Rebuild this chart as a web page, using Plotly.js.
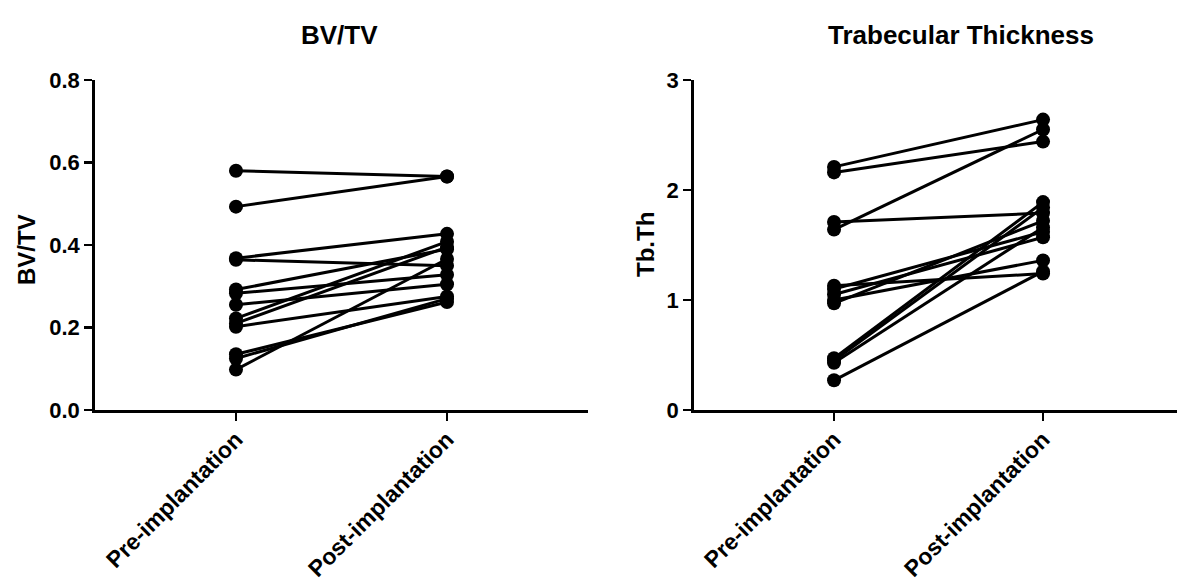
<!DOCTYPE html>
<html>
<head>
<meta charset="utf-8">
<script src="https://cdn.plot.ly/plotly-3.0.1.min.js"></script>
<style>
html,body{margin:0;padding:0;background:#fff;}
#chart{width:1177px;height:587px;}
</style>
</head>
<body>
<div id="chart"></div>
<script>
const categories = ['Pre-implantation', 'Post-implantation'];

// BV/TV per subject: pre and post values
const bvtvPre  = [0.580, 0.493, 0.368, 0.364, 0.292, 0.283, 0.255, 0.222, 0.210, 0.202, 0.135, 0.125, 0.098];
const bvtvPost = [0.566, 0.566, 0.427, 0.350, 0.390, 0.328, 0.305, 0.408, 0.395, 0.275, 0.262, 0.270, 0.366];

// Trabecular thickness (Tb.Th) per subject
const tbthPre  = [2.21, 2.16, 1.64, 1.71, 1.13, 1.10, 1.05, 1.00, 0.97, 0.47, 0.45, 0.43, 0.27];
const tbthPost = [2.64, 2.44, 2.55, 1.79, 1.24, 1.62, 1.57, 1.36, 1.72, 1.89, 1.84, 1.66, 1.26];

const panelTitles = ['BV/TV', 'Trabecular Thickness'];
const yTitles = ['BV/TV', 'Tb.Th'];

const FONT = 'Liberation Sans, Arial, sans-serif';
const traces = [];
function addPanel(pre, post, xa, ya) {
  for (let i = 0; i < pre.length; i++) {
    traces.push({
      x: categories, y: [pre[i], post[i]],
      xaxis: xa, yaxis: ya,
      type: 'scatter', mode: 'lines+markers',
      line: {color: '#000', width: 3},
      marker: {color: '#000', size: 14},
      showlegend: false, hoverinfo: 'skip', cliponaxis: false
    });
  }
}
addPanel(bvtvPre, bvtvPost, 'x', 'y');
addPanel(tbthPre, tbthPost, 'x2', 'y2');

const W = 1177, H = 587, ML = 95, MR = 0, MT = 80, MB = 177;
const PW = W - ML - MR, PH = H - MT - MB;
const px = v => (v - ML) / PW;
const py = v => (H - MB - v) / PH;

const axisCommon = {
  showline: true, linecolor: '#000', linewidth: 2.8,
  ticks: 'outside', ticklen: 8, tickwidth: 2.8, tickcolor: '#000',
  showgrid: false, zeroline: false
};
const yTickFont = {family: FONT, size: 22, color: '#000', weight: 700};
const xTickFont = {family: FONT, size: 23, color: '#000', weight: 700};

const layout = {
  width: W, height: H,
  margin: {l: ML, r: MR, t: MT, b: MB},
  paper_bgcolor: '#fff', plot_bgcolor: '#fff',
  showlegend: false, hovermode: false,
  xaxis: Object.assign({}, axisCommon, {
    domain: [0, px(588)], type: 'category', range: [-0.668, 1.668],
    tickangle: -45, anchor: 'y', tickfont: xTickFont, ticklabelstandoff: -4
  }),
  yaxis: Object.assign({}, axisCommon, {
    domain: [0, 1], range: [0, 0.8], tickvals: [0, 0.2, 0.4, 0.6, 0.8],
    tickformat: '.1f', anchor: 'x', tickfont: yTickFont
  }),
  xaxis2: Object.assign({}, axisCommon, {
    domain: [px(694), 1], type: 'category', range: [-0.67, 1.641],
    tickangle: -45, anchor: 'y2', tickfont: xTickFont, ticklabelstandoff: -4
  }),
  yaxis2: Object.assign({}, axisCommon, {
    domain: [0, 1], range: [0, 3], tickvals: [0, 1, 2, 3], anchor: 'x2',
    tickfont: yTickFont
  }),
  annotations: [
    {text: panelTitles[0], xref: 'paper', yref: 'paper', x: px(339), y: py(35),
     showarrow: false, xanchor: 'center', yanchor: 'middle',
     font: {family: FONT, size: 26, color: '#000', weight: 700}},
    {text: panelTitles[1], xref: 'paper', yref: 'paper', x: px(961), y: py(35),
     showarrow: false, xanchor: 'center', yanchor: 'middle',
     font: {family: FONT, size: 26, color: '#000', weight: 700}},
    {text: yTitles[0], xref: 'paper', yref: 'paper', x: px(26), y: py(250),
     showarrow: false, xanchor: 'center', yanchor: 'middle', textangle: -90,
     font: {family: FONT, size: 24, color: '#000', weight: 700}},
    {text: yTitles[1], xref: 'paper', yref: 'paper', x: px(645), y: py(245),
     showarrow: false, xanchor: 'center', yanchor: 'middle', textangle: -90,
     font: {family: FONT, size: 24, color: '#000', weight: 700}}
  ]
};

Plotly.newPlot('chart', traces, layout, {staticPlot: true, displayModeBar: false});
</script>
</body>
</html>
